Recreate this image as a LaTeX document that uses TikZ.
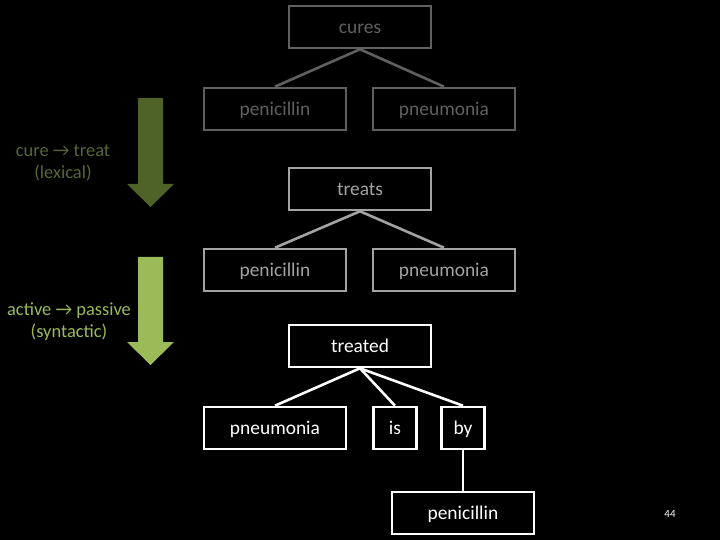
\documentclass[tikz,border=0pt]{standalone}
\usepackage{fontspec}
\setmainfont{Carlito}
\usepackage{xcolor}
\definecolor{dimgray}{HTML}{606060}
\definecolor{midgray}{HTML}{A3A3A3}
\definecolor{darkolive}{HTML}{4F6228}
\definecolor{lightolive}{HTML}{9BBB59}
\tikzset{
  wordbox/.style={draw,line width=2.6pt,minimum width=142bp,minimum height=42bp,inner sep=0pt,text height=14bp,text depth=1bp,font=\fontsize{19.5}{22}\selectfont},
  smallbox/.style={wordbox,minimum width=43bp},
  link/.style={line width=2.6pt},
}
\begin{document}
\begin{tikzpicture}[x=1bp,y=-1bp]
\fill [black] (0,0) rectangle (720,540);
\useasboundingbox (0,0) rectangle (720,540);
% first tree
\node [wordbox,dimgray] (cures) at (360,27) {cures};
\node [wordbox,dimgray] (pen1) at (275,109) {penicillin};
\node [wordbox,dimgray] (pneu1) at (444,109) {pneumonia};
\draw [link,dimgray] (cures.south) -- (pen1.north);
\draw [link,dimgray] (cures.south) -- (pneu1.north);
% second tree
\node [wordbox,midgray] (treats) at (360,189) {treats};
\node [wordbox,midgray] (pen2) at (275,270) {penicillin};
\node [wordbox,midgray] (pneu2) at (444,270) {pneumonia};
\draw [link,midgray] (treats.south) -- (pen2.north);
\draw [link,midgray] (treats.south) -- (pneu2.north);
% third tree
\node [wordbox,white] (treated) at (360,346) {treated};
\node [wordbox,white] (pneu3) at (275,428) {pneumonia};
\node [smallbox,white] (is) at (395,428) {is};
\node [smallbox,white] (by) at (463,428) {by};
\node [wordbox,white] (pen3) at (463,513) {penicillin};
\draw [link,white] (treated.south) -- (pneu3.north);
\draw [link,white] (treated.south) -- (is.north);
\draw [link,white] (treated.south) -- (by.north);
\draw [link,white] (by.south) -- (pen3.north);
% arrows
\fill [darkolive] (138,98) -- (163,98) -- (163,184) -- (174,184) -- (150.5,207) -- (127,184) -- (138,184) -- cycle;
\fill [lightolive] (138,257) -- (163,257) -- (163,342) -- (174,342) -- (150.5,365) -- (127,342) -- (138,342) -- cycle;
\node [darkolive!85!gray,align=center,font=\fontsize{18.5}{22}\selectfont] (lex) at (63,163) {cure → treat\\(lexical)};
\node [lightolive,align=center,font=\fontsize{18.5}{22}\selectfont] (syn) at (69,322) {active → passive\\(syntactic)};
\node [white,font=\fontsize{11}{12}\selectfont] (page) at (670,514) {44};
\end{tikzpicture}
\end{document}
